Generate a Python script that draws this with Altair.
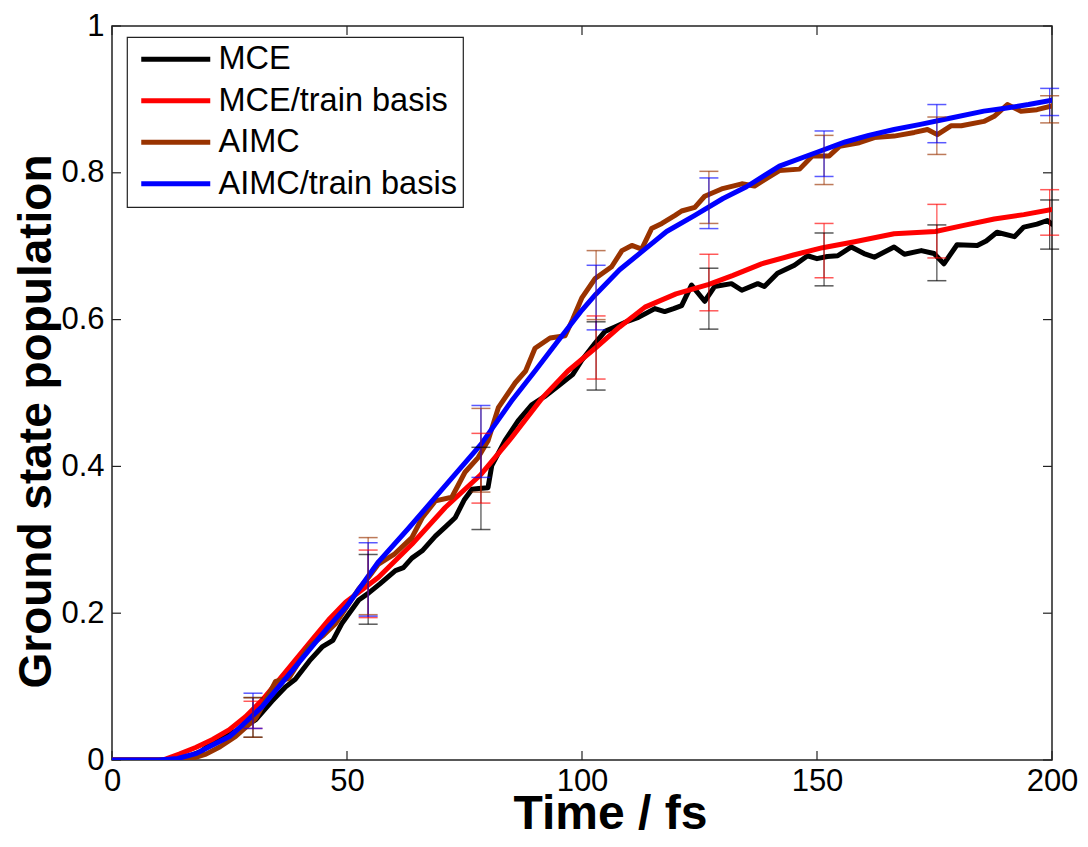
import altair as alt
import pandas as pd

# ---------------- data ----------------
series_names = ["MCE", "MCE/train basis", "AIMC", "AIMC/train basis"]
series_colors = ["#000000", "#ff0000", "#993300", "#0000ff"]

mce_x = [0, 12, 16, 19, 21.4, 25, 28, 30.6, 34, 37, 39, 42, 44.7, 47, 48.9, 52.5, 54.5, 57, 60.3, 62,
         63.8, 66, 68.8, 71, 73, 75, 76.6, 78, 80, 80.8, 83.6, 86.4, 89.3, 92, 95, 98, 100, 102.8,
         104.9, 107, 109.8, 112, 115.5, 117.6, 119.5, 121.2, 123.3, 126.1, 128.2, 131.8, 134, 137.4,
         138.8, 141.6, 145.2, 148, 150, 152.2, 154.4, 157.3, 160, 162.2, 166.4, 168.6, 172.2, 174.9,
         177, 179.8, 184.1, 186, 188.3, 192, 194, 196.8, 199, 200]
mce_y = [0, 0, 0.004, 0.012, 0.024, 0.035, 0.045, 0.055, 0.08, 0.1, 0.11, 0.135, 0.154, 0.163, 0.186,
         0.218, 0.227, 0.24, 0.258, 0.262, 0.275, 0.285, 0.305, 0.318, 0.33, 0.355, 0.369, 0.37, 0.371,
         0.401, 0.435, 0.462, 0.484, 0.495, 0.51, 0.525, 0.545, 0.568, 0.584, 0.59, 0.598, 0.603, 0.615,
         0.611, 0.615, 0.619, 0.647, 0.625, 0.645, 0.649, 0.64, 0.649, 0.645, 0.663, 0.674, 0.687,
         0.683, 0.686, 0.687, 0.699, 0.69, 0.685, 0.699, 0.689, 0.694, 0.69, 0.676, 0.702, 0.701,
         0.707, 0.719, 0.713, 0.726, 0.73, 0.735, 0.73]

mcet_x = [0, 10.8, 14.3, 17.8, 21.4, 24.9, 28.4, 32, 35.5, 39, 42.6, 46.1, 49.7, 56.7, 63.8, 70.9,
          78.5, 85, 91.5, 97, 102.8, 108, 113.4, 120, 127, 132, 138.2, 145, 151.2, 158, 166.4, 175.2,
          181, 187.7, 194, 200]
mcet_y = [0, 0, 0.008, 0.017, 0.028, 0.041, 0.059, 0.082, 0.109, 0.136, 0.164, 0.191, 0.215, 0.249,
          0.294, 0.344, 0.389, 0.439, 0.493, 0.53, 0.561, 0.59, 0.617, 0.635, 0.648, 0.66, 0.676,
          0.688, 0.698, 0.706, 0.717, 0.72, 0.728, 0.737, 0.743, 0.75]

aimc_x = [0, 14, 17, 20, 23, 26.3, 30.6, 33, 34.8, 37.6, 41.8, 45, 47.6, 52.5, 54.6, 56.7, 60, 63.8,
          66, 68.8, 72.3, 75.1, 77.9, 80, 82.2, 85.8, 88, 90, 93.2, 96.4, 98, 100, 102.8, 106.3, 108.5,
          110.6, 112.7, 114.8, 117, 119.8, 121.2, 124, 126.1, 129.7, 134, 136.7, 140, 142, 146.3, 149,
          152.6, 154.8, 159, 162.2, 166.4, 170.7, 173.5, 175.6, 178.5, 180.7, 185.5, 187.7, 190.5,
          193.4, 196.8, 200]
aimc_y = [0, 0, 0.002, 0.008, 0.018, 0.032, 0.057, 0.085, 0.107, 0.111, 0.154, 0.17, 0.186, 0.233,
          0.249, 0.267, 0.28, 0.303, 0.33, 0.353, 0.358, 0.392, 0.412, 0.435, 0.48, 0.514, 0.53, 0.561,
          0.575, 0.578, 0.6, 0.63, 0.656, 0.672, 0.694, 0.701, 0.696, 0.724, 0.731, 0.742, 0.748,
          0.753, 0.768, 0.778, 0.785, 0.782, 0.795, 0.803, 0.805, 0.823, 0.823, 0.836, 0.841, 0.848,
          0.85, 0.855, 0.859, 0.852, 0.864, 0.864, 0.87, 0.877, 0.893, 0.884, 0.886, 0.891]

aimct_x = [0, 10, 14, 18, 21, 25, 28, 32, 35.5, 39, 42.5, 46, 50, 56.7, 63, 70, 78.5, 85, 90, 95, 100,
           103, 108, 113.4, 118, 124, 130, 135, 142, 150, 156, 161, 166.4, 172, 178, 185.5, 190, 195,
           200]
aimct_y = [0, 0, 0.002, 0.009, 0.019, 0.032, 0.049, 0.073, 0.1, 0.127, 0.154, 0.181, 0.21, 0.27,
           0.315, 0.367, 0.43, 0.489, 0.53, 0.572, 0.613, 0.635, 0.668, 0.696, 0.72, 0.742, 0.765,
           0.781, 0.809, 0.828, 0.842, 0.851, 0.859, 0.866, 0.874, 0.884, 0.888, 0.893, 0.899]

err_t = [30, 54.5, 78.5, 103, 127, 151.5, 175.5, 199.5]
mce_lo = [0.031, 0.185, 0.314, 0.504, 0.587, 0.646, 0.653, 0.696]
mce_hi = [0.085, 0.280, 0.426, 0.597, 0.670, 0.718, 0.729, 0.763]
mcet_lo = [0.043, 0.194, 0.350, 0.519, 0.612, 0.657, 0.684, 0.715]
mcet_hi = [0.080, 0.286, 0.445, 0.605, 0.689, 0.731, 0.757, 0.777]
aimc_lo = [0.031, 0.198, 0.365, 0.600, 0.731, 0.784, 0.825, 0.868]
aimc_hi = [0.085, 0.303, 0.479, 0.694, 0.802, 0.851, 0.876, 0.905]
aimct_lo = [0.043, 0.196, 0.385, 0.586, 0.724, 0.795, 0.841, 0.878]
aimct_hi = [0.091, 0.296, 0.483, 0.674, 0.793, 0.857, 0.893, 0.915]

x_ticks = [0, 50, 100, 150, 200]
y_ticks = [0, 0.2, 0.4, 0.6, 0.8, 1]

# ---------------- tables ----------------
lines = []
for name, xs, ys in zip(series_names, [mce_x, mcet_x, aimc_x, aimct_x],
                        [mce_y, mcet_y, aimc_y, aimct_y]):
    for a, b in zip(xs, ys):
        lines.append({"series": name, "t": a, "pop": b})
lines_df = pd.DataFrame(lines)

errs = []
for name, lo, hi in zip(series_names, [mce_lo, mcet_lo, aimc_lo, aimct_lo],
                        [mce_hi, mcet_hi, aimc_hi, aimct_hi]):
    for t, l, h in zip(err_t, lo, hi):
        errs.append({"series": name, "t": t, "lo": l, "hi": h})
err_df = pd.DataFrame(errs)

FONT = "Liberation Sans"
X_MAX, Y_MAX = 200, 1
W, H = 940, 734
PAD_L, PAD_T, PAD_R, PAD_B = 104, 18, 28, 79
TICK_PX = 9
dx = TICK_PX / W * X_MAX
dy = TICK_PX / H * Y_MAX

xscale = alt.Scale(domain=[0, X_MAX], nice=False, zero=False)
yscale = alt.Scale(domain=[0, Y_MAX], nice=False, zero=False)
cscale = alt.Scale(domain=series_names, range=series_colors)

x_axis = alt.Axis(values=x_ticks, tickSize=0, domain=False, grid=False, labelFlush=False,
                  labelOverlap=False, labelFontSize=31, labelFont=FONT, labelColor="black",
                  labelPadding=6, title="Time / fs", titleFontSize=48, titleFont=FONT,
                  titleFontWeight="bold", titleColor="black",
                  titleX=W / 2 + 28, titleY=68, titleAlign="center", titleBaseline="alphabetic")
y_axis = alt.Axis(values=y_ticks, tickSize=0, domain=False, grid=False, labelFlush=False,
                  labelOverlap=False, labelFontSize=31, labelFont=FONT, labelColor="black",
                  labelPadding=8, title="Ground state population", titleFontSize=46,
                  titleFont=FONT, titleFontWeight="bold", titleColor="black",
                  titleX=-76, titleY=H / 2 + 28, titleAngle=270, titleAlign="center",
                  titleBaseline="middle", format="~g")


def X(field):
    return alt.X(field, scale=xscale, axis=x_axis)


def Y(field):
    return alt.Y(field, scale=yscale, axis=y_axis)


base = alt.Chart(lines_df)

line_layers = []
for i, name in enumerate(series_names):
    line_layers.append(
        base.transform_filter(alt.datum.series == name)
        .mark_line(strokeWidth=5, clip=True, strokeJoin="round", strokeCap="round")
        .encode(
            x=X("t:Q"), y=Y("pop:Q"),
            color=alt.Color("series:N", scale=cscale,
                            legend=alt.Legend(title=None) if i == 0 else None),
        )
    )

err_base = alt.Chart(err_df)
err_rule = err_base.mark_rule(strokeWidth=1.3, opacity=0.65).encode(
    x=X("t:Q"), y=Y("lo:Q"), y2="hi:Q",
    color=alt.Color("series:N", scale=cscale, legend=None),
)
err_cap_lo = err_base.mark_tick(orient="horizontal", size=19, thickness=1.5, opacity=0.65).encode(
    x=X("t:Q"), y=Y("lo:Q"),
    color=alt.Color("series:N", scale=cscale, legend=None),
)
err_cap_hi = err_base.mark_tick(orient="horizontal", size=19, thickness=1.5, opacity=0.65).encode(
    x=X("t:Q"), y=Y("hi:Q"),
    color=alt.Color("series:N", scale=cscale, legend=None),
)

# inward tick marks on all four sides of the box
xt = pd.DataFrame({"v": x_ticks})
yt = pd.DataFrame({"v": y_ticks})
tick_color = "#222222"
xt_bottom = alt.Chart(xt).mark_rule(color=tick_color, strokeWidth=1.2).transform_calculate(
    a="0", b=str(dy)).encode(x=X("v:Q"), y=Y("a:Q"), y2="b:Q")
xt_top = alt.Chart(xt).mark_rule(color=tick_color, strokeWidth=1.2).transform_calculate(
    a=str(Y_MAX - dy), b=str(Y_MAX)).encode(x=X("v:Q"), y=Y("a:Q"), y2="b:Q")
yt_left = alt.Chart(yt).mark_rule(color=tick_color, strokeWidth=1.2).transform_calculate(
    a="0", b=str(dx)).encode(y=Y("v:Q"), x=X("a:Q"), x2="b:Q")
yt_right = alt.Chart(yt).mark_rule(color=tick_color, strokeWidth=1.2).transform_calculate(
    a=str(X_MAX - dx), b=str(X_MAX)).encode(y=Y("v:Q"), x=X("a:Q"), x2="b:Q")

chart = alt.layer(
    xt_bottom, xt_top, yt_left, yt_right,
    *line_layers,
    err_rule, err_cap_lo, err_cap_hi,
).properties(
    width=W, height=H,
    autosize=alt.AutoSizeParams(type="none"),
    padding={"left": PAD_L, "top": PAD_T, "right": PAD_R, "bottom": PAD_B},
).configure_view(
    stroke="#222222", strokeWidth=1.5
).configure_legend(
    orient="none", legendX=15, legendY=11,
    strokeColor="#222222", fillColor="white", strokeWidth=1.2,
    padding=6, labelFont=FONT, labelFontSize=32.5, labelColor="black", labelLimit=0,
    symbolType="M-0.8,0H6.1", symbolSize=400, symbolStrokeWidth=5, symbolFillColor="transparent",
    labelOffset=53, rowPadding=8.5,
)

chart.save("out.html", embed_options={"renderer": "svg", "actions": False})
